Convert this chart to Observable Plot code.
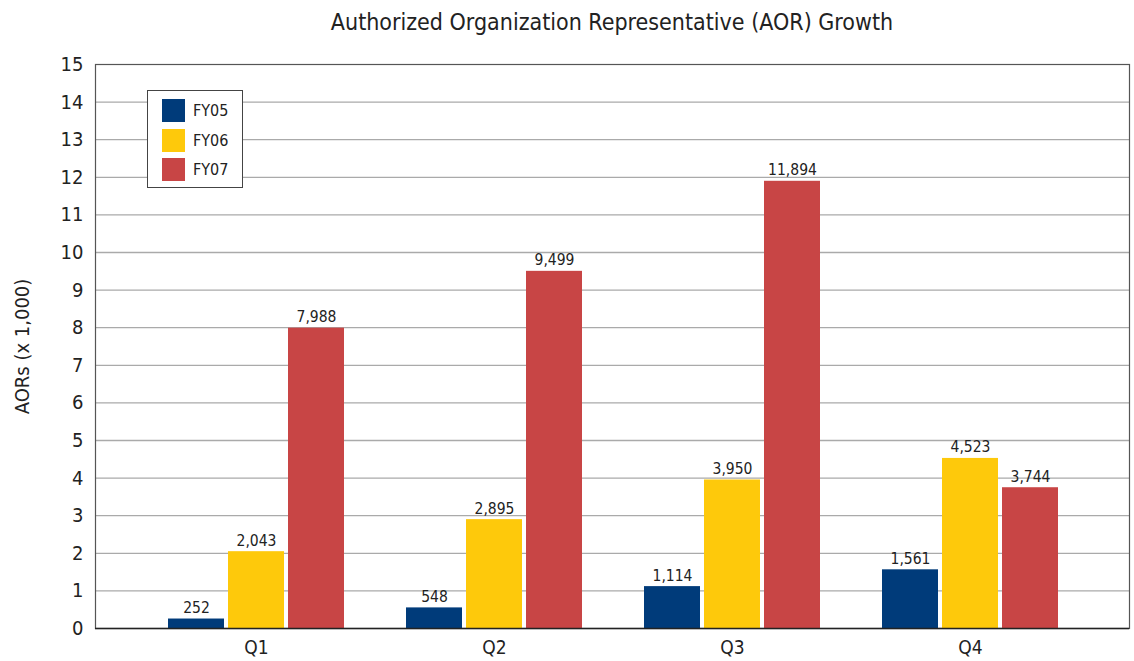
<!DOCTYPE html>
<html>
<head>
<meta charset="utf-8">
<script src="https://cdn.jsdelivr.net/npm/d3@7"></script>
<script src="https://cdn.jsdelivr.net/npm/@observablehq/plot@0.6"></script>
<style>
  html, body { margin: 0; padding: 0; background: #fff; }
  #wrap { position: relative; width: 1134px; height: 661px; font-family: "DejaVu Sans Condensed", "Liberation Sans Narrow", sans-serif; color: #222; }
  #title { height: 44px; line-height: 44px; padding-left: 95px; padding-right: 5px; text-align: center; font-size: 23px; }
  #legend { position: absolute; left: 147px; top: 90px; width: 94px; height: 96px; border: 1.5px solid #444; background: #fff; box-sizing: content-box; }
  .item { position: absolute; left: 14px; height: 23px; display: flex; align-items: center; font-size: 16px; }
  .sw { width: 23px; height: 23px; margin-right: 8px; }
</style>
</head>
<body>
<div id="wrap">
  <div id="title">Authorized Organization Representative (AOR) Growth</div>
  <div id="chart"></div>
  <div id="legend"></div>
</div>
<script>
const quarters = ["Q1", "Q2", "Q3", "Q4"];
const seriesNames = ["FY05", "FY06", "FY07"];
const fy05 = [252, 548, 1114, 1561];
const fy06 = [2043, 2895, 3950, 4523];
const fy07 = [7988, 9499, 11894, 3744];
const yTicks = [0, 1, 2, 3, 4, 5, 6, 7, 8, 9, 10, 11, 12, 13, 14, 15];
const colors = ["#003b7a", "#fec90b", "#c84545"];
const yLabel = "AORs (x 1,000)";

const seriesValues = [fy05, fy06, fy07];
const rows = [];
seriesValues.forEach((vals, si) => {
  vals.forEach((v, qi) => rows.push({quarter: quarters[qi], series: seriesNames[si], si, value: v}));
});

const fmt = d3.format(",");
const barMarks = [];
seriesNames.forEach((name, si) => {
  const data = rows.filter(d => d.series === name);
  const off = (si - 1) * 60;
  barMarks.push(Plot.barY(data, {x: "quarter", y: d => d.value / 1000, fill: colors[si], insetLeft: 91, insetRight: 91, dx: off}));
  barMarks.push(Plot.text(data, {x: "quarter", y: d => d.value / 1000, text: d => fmt(d.value), dx: off, dy: -6, lineAnchor: "bottom", fontSize: 15.5, fill: "#222"}));
});

const chart = Plot.plot({
  width: 1134,
  height: 617,
  marginLeft: 95,
  marginRight: 5,
  marginTop: 20,
  marginBottom: 33,
  style: {fontFamily: "'DejaVu Sans Condensed', 'Liberation Sans Narrow', sans-serif", color: "#222", background: "#fff"},
  x: {domain: quarters, range: [135, 1090], padding: 0},
  y: {domain: [0, 15]},
  marks: [
    Plot.gridY({ticks: yTicks.slice(1, -1), stroke: "#aaa", strokeOpacity: 1, strokeWidth: 1.3}),
    Plot.frame({stroke: "#555", strokeWidth: 1.2}),
    ...barMarks,
    Plot.ruleY([0], {stroke: "#222", strokeWidth: 1.5}),
    Plot.axisY({ticks: yTicks, tickSize: 0, tickPadding: 12, fontSize: 20, label: null}),
    Plot.axisX({tickSize: 0, tickPadding: 12, fontSize: 19, label: null}),
    Plot.text([yLabel], {frameAnchor: "left", textAnchor: "middle", rotate: -90, dx: -73, fontSize: 20, fill: "#222"})
  ]
});
document.getElementById("chart").appendChild(chart);

const legend = document.getElementById("legend");
seriesNames.forEach((name, si) => {
  const item = document.createElement("div");
  item.className = "item";
  item.style.top = (8 + si * 29.5) + "px";
  const sw = document.createElement("div");
  sw.className = "sw";
  sw.style.background = colors[si];
  item.appendChild(sw);
  item.appendChild(document.createTextNode(name));
  legend.appendChild(item);
});
</script>
</body>
</html>
